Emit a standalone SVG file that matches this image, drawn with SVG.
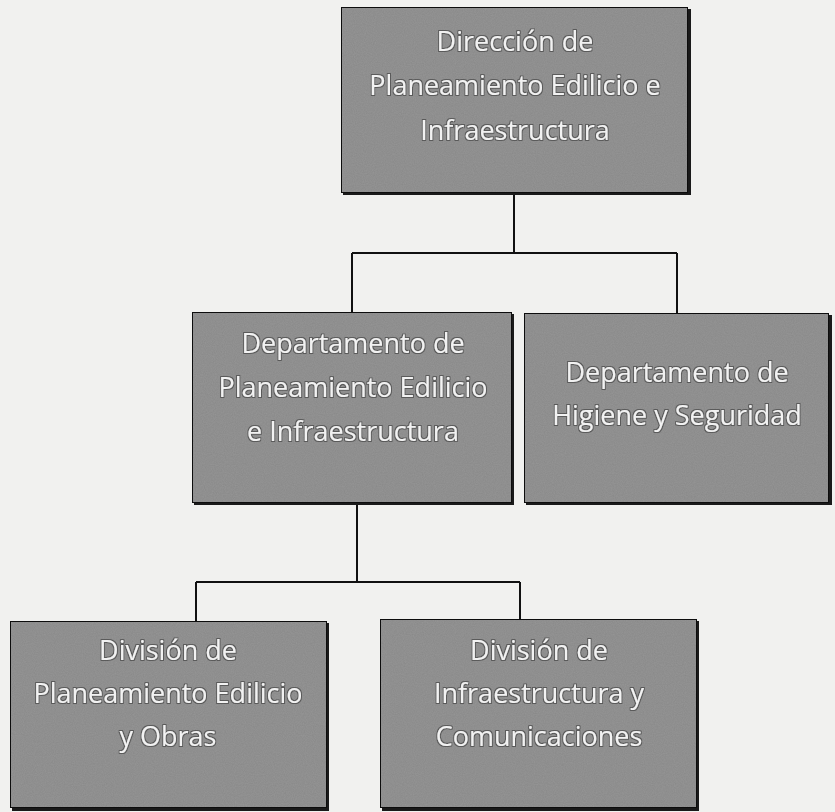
<svg xmlns="http://www.w3.org/2000/svg" width="835" height="812" viewBox="0 0 835 812">
<defs>
<filter id="noise" x="0" y="0" width="100%" height="100%">
<feTurbulence type="fractalNoise" baseFrequency="0.9" numOctaves="2" seed="3" result="n"/>
<feColorMatrix in="n" type="matrix" values="0 0 0 0 0.5  0 0 0 0 0.5  0 0 0 0 0.5  0 0 0 0.35 0" result="g"/>
<feComposite in="g" in2="SourceGraphic" operator="in" result="gc"/>
<feBlend in="SourceGraphic" in2="gc" mode="multiply"/>
</filter>
<filter id="glow" x="-5%" y="-20%" width="110%" height="140%">
<feMorphology in="SourceAlpha" operator="dilate" radius="0.8" result="d"/>
<feFlood flood-color="#3a3a3a" flood-opacity="0.6"/>
<feComposite in2="d" operator="in" result="s"/>
<feMerge><feMergeNode in="s"/><feMergeNode in="SourceGraphic"/></feMerge>
</filter>
</defs>
<style>
.shadow{fill:#1a1a1a;}
.box{fill:#959595;stroke:#111;stroke-width:2;}
.lbl{font-family:"Open Sans","Liberation Sans",sans-serif;font-size:27px;fill:#f2f2f2;text-anchor:middle;}
.con{stroke:#111;stroke-width:2;fill:none;}
</style>
<rect x="0" y="0" width="835" height="812" fill="#f1f1ef"/>
<g id="connectors">
<path class="con" d="M514,193 V253 M352,253 H677 M352,253 V313 M677,253 V313"/>
<path class="con" d="M357,503 V582 M196,582 H520 M196,582 V621 M520,582 V619"/>
</g>
<g id="n1">
<rect class="shadow" x="343" y="9" width="348" height="186"/>
<rect class="box" x="341" y="7" width="347" height="186" filter="url(#noise)"/>
<g filter="url(#glow)">
<text class="lbl" x="515" y="51">Dirección de</text>
<text class="lbl" x="515" y="95">Planeamiento Edilicio e</text>
<text class="lbl" x="515" y="140">Infraestructura</text>
</g>
</g>
<g id="n2">
<rect class="shadow" x="194" y="314" width="320" height="191"/>
<rect class="box" x="192" y="312" width="320" height="191" filter="url(#noise)"/>
<g filter="url(#glow)">
<text class="lbl" x="353" y="353">Departamento de</text>
<text class="lbl" x="353" y="397">Planeamiento Edilicio</text>
<text class="lbl" x="353" y="441">e Infraestructura</text>
</g>
</g>
<g id="n3">
<rect class="shadow" x="526" y="315" width="306" height="190"/>
<rect class="box" x="524" y="313" width="305" height="190" filter="url(#noise)"/>
<g filter="url(#glow)">
<text class="lbl" x="677" y="382">Departamento de</text>
<text class="lbl" x="677" y="425">Higiene y Seguridad</text>
</g>
</g>
<g id="n4">
<rect class="shadow" x="12" y="623" width="317" height="188"/>
<rect class="box" x="10" y="621" width="317" height="187" filter="url(#noise)"/>
<g filter="url(#glow)">
<text class="lbl" x="168" y="660">División de</text>
<text class="lbl" x="168" y="703">Planeamiento Edilicio</text>
<text class="lbl" x="168" y="746">y Obras</text>
</g>
</g>
<g id="n5">
<rect class="shadow" x="382" y="621" width="317" height="190"/>
<rect class="box" x="380" y="619" width="317" height="189" filter="url(#noise)"/>
<g filter="url(#glow)">
<text class="lbl" x="539" y="660">División de</text>
<text class="lbl" x="539" y="703">Infraestructura y</text>
<text class="lbl" x="539" y="746">Comunicaciones</text>
</g>
</g>
</svg>
